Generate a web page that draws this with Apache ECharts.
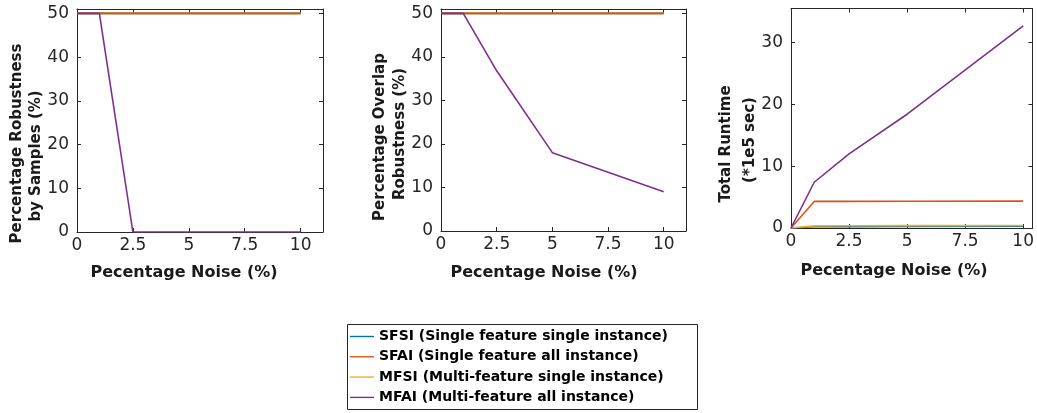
<!DOCTYPE html>
<html>
<head>
<meta charset="utf-8">
<script src="https://cdn.jsdelivr.net/npm/echarts@6/dist/echarts.min.js"></script>
<style>
html,body{margin:0;padding:0;background:#fff;}
#chart{width:1037px;height:413px;}
</style>
</head>
<body>
<div id="chart"></div>
<script>
// ---- data ----
const noise = [0, 1, 2.5, 5, 10];
const xTicks = [0, 2.5, 5, 7.5, 10];
const xTickLabels = ['0', '2.5', '5', '7.5', '10'];
const yTicksRob = [0, 10, 20, 30, 40, 50];
const yTicksRun = [0, 10, 20, 30];

const names = ['SFSI (Single feature single instance)', 'SFAI (Single feature all instance)',
               'MFSI (Multi-feature single instance)', 'MFAI (Multi-feature all instance)'];

// Plot 1: Percentage Robustness by Samples (%)
const sfsi1 = [50, 50, 50, 50, 50];
const sfai1 = [50, 50, 50, 50, 50];
const mfsi1 = [50, 50, 50, 50, 50];
const mfai1 = [50, 50, 0, 0, 0];

// Plot 2: Percentage Overlap Robustness (%)
const sfsi2 = [50, 50, 50, 50, 50];
const sfai2 = [50, 50, 50, 50, 50];
const mfsi2 = [50, 50, 50, 50, 50];
const mfai2 = [50, 50, 36.8, 18, 9];

// Plot 3: Total Runtime (*1e5 sec)
const sfsi3 = [0, 0.2, 0.22, 0.25, 0.28];
const sfai3 = [0, 4.3, 4.3, 4.33, 4.35];
const mfsi3 = [0, 0.35, 0.37, 0.38, 0.4];
const mfai3 = [0, 7.4, 12.0, 18.4, 32.7];

const colors = ['#0072BD', '#D95319', '#EDB120', '#7E2F8E'];

// ---- layout ----
const grids = [
  {left: 77, top: 9, width: 246, height: 223},
  {left: 441, top: 9, width: 245, height: 222},
  {left: 791, top: 8.5, width: 243, height: 219.5}
];
const xMax = [11, 11, 10.4];
const yMax = [51, 51, 35.5];
const yTickSets = [yTicksRob, yTicksRob, yTicksRun];

const axisCol = '#262626';
const tickFont = {fontFamily: 'DejaVu Sans', fontSize: 17, color: axisCol};

function fmtX(v) {
  const i = xTicks.indexOf(v);
  return i >= 0 ? xTickLabels[i] : '';
}
function mkFmtY(set) {
  return function (v) { return set.indexOf(v) >= 0 ? String(v) : ''; };
}

const xAxes = [], yAxes = [];
grids.forEach((g, i) => {
  const common = {type: 'value', gridIndex: i, min: 0, splitLine: {show: false},
    axisLine: {show: true, onZero: false, lineStyle: {color: axisCol, width: 1}},
    axisTick: {show: true, inside: true, length: 4, lineStyle: {color: axisCol}}};
  xAxes.push(Object.assign({}, common, {position: 'bottom', max: xMax[i], interval: 2.5,
    axisLabel: Object.assign({margin: 5, formatter: fmtX}, tickFont)}));
  xAxes.push(Object.assign({}, common, {position: 'top', max: xMax[i], interval: 2.5,
    axisLabel: {show: false}}));
  yAxes.push(Object.assign({}, common, {position: 'left', max: yMax[i], interval: 10,
    axisLabel: Object.assign({margin: 8, formatter: mkFmtY(yTickSets[i])}, tickFont)}));
  yAxes.push(Object.assign({}, common, {position: 'right', max: yMax[i], interval: 10,
    axisLabel: {show: false}}));
});

function pairs(ys) { return noise.map((x, k) => [x, ys[k]]); }

const plotData = [
  [sfsi1, sfai1, mfsi1, mfai1],
  [sfsi2, sfai2, mfsi2, mfai2],
  [sfsi3, sfai3, mfsi3, mfai3]
];
// draw order per plot (later on top)
const orders = [[0, 2, 1, 3], [0, 2, 1, 3], [0, 1, 2, 3]];

const series = [];
plotData.forEach((set, gi) => {
  orders[gi].forEach(si => {
    series.push({
      type: 'line', name: names[si], xAxisIndex: gi * 2, yAxisIndex: gi * 2,
      data: pairs(set[si]), symbol: 'none', showSymbol: false, animation: false,
      lineStyle: {color: colors[si], width: 1.6}, itemStyle: {color: colors[si]},
      silent: true
    });
  });
});

const titleCol = '#1a1a1a';
function txt(t, x, y, rot) {
  return {type: 'text', x: x, y: y, rotation: rot ? Math.PI / 2 : 0, silent: true,
    style: {text: t, font: rot ? 'bold 15px "DejaVu Sans"' : 'bold 16px "DejaVu Sans"',
      fill: titleCol, align: 'center', verticalAlign: 'middle'}};
}

const graphics = [
  txt('Percentage Robustness', 16.7, 143.5, true),
  txt('by Samples (%)', 36, 156, true),
  txt('Percentage Overlap', 380.5, 137, true),
  txt('Robustness (%)', 400, 134, true),
  txt('Total Runtime', 726.5, 144, true),
  txt('(*1e5 sec)', 750, 140, true),
  txt('Pecentage Noise (%)', 184, 273, false),
  txt('Pecentage Noise (%)', 544, 273, false),
  txt('Pecentage Noise (%)', 894, 271, false),
  {type: 'rect', shape: {x: 347.5, y: 324.5, width: 350, height: 85}, silent: true,
    style: {fill: 'none', stroke: '#262626', lineWidth: 1}}
];

const chart = echarts.init(document.getElementById('chart'), null, {renderer: 'canvas'});
chart.setOption({
  animation: false,
  color: colors,
  grid: grids.map(g => Object.assign({containLabel: false}, g)),
  xAxis: xAxes,
  yAxis: yAxes,
  legend: {
    data: names, orient: 'vertical', left: 350, top: 329.5, padding: 0,
    itemWidth: 24, itemHeight: 1.4, itemGap: 6.3, icon: 'rect',
    selectedMode: false,
    textStyle: {fontFamily: 'DejaVu Sans', fontWeight: 'bold', fontSize: 14, color: '#000', lineHeight: 14}
  },
  series: series,
  graphic: graphics
});
</script>
</body>
</html>
